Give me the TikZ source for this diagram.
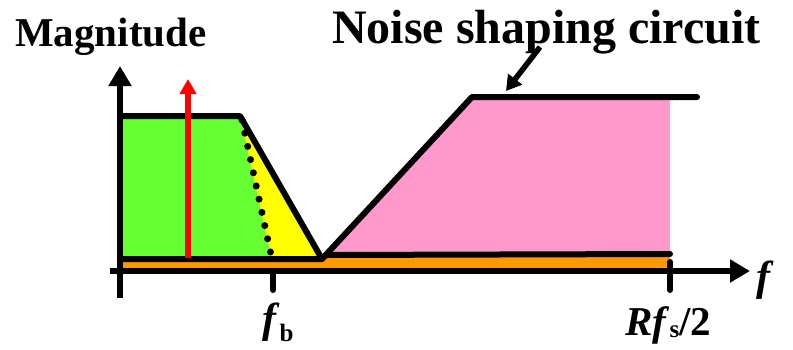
\documentclass[tikz,border=0pt]{standalone}
\usepackage{fontspec}
\setmainfont{Liberation Serif}
\usetikzlibrary{arrows.meta}
\begin{document}
\begin{tikzpicture}[x=1pt,y=-1pt,
  thick line/.style={line width=6pt,line cap=round,line join=round},
  axis/.style={line width=6pt,-{Triangle[length=20pt,width=22pt]}},
  lbl/.style={inner sep=0pt,font=\bfseries}]
\definecolor{grn}{RGB}{102,255,51}
\definecolor{yel}{RGB}{255,255,0}
\definecolor{pnk}{RGB}{255,153,204}
\definecolor{org}{RGB}{255,153,0}
\useasboundingbox (0,0) rectangle (793,349);
\fill[white] (0,0) rectangle (793,349);
% coordinates
\coordinate (tl) at (120,116);
\coordinate (tr) at (240,116);
\coordinate (bz) at (322,259);
\coordinate (bl) at (120,259);
\coordinate (dt) at (242,120);
\coordinate (db) at (272,259);
\coordinate (ps) at (326,255);
\coordinate (pt) at (472,97);
\coordinate (pe) at (697,97);
\coordinate (pr) at (670,97);
\coordinate (pb) at (670,254);
% fills
\fill[org] (120,255) rectangle (670,268);
\fill[grn] (tl) -- (tr) -- (db) -- (bl) -- cycle;
\fill[yel] (tr) -- (bz) -- (db) -- cycle;
\fill[pnk] (ps) -- (pt) -- (pr) -- (pb) -- cycle;
% outlines
\draw[thick line] (tl) -- (tr) -- (bz);
\draw[thick line] (bl) -- (bz) -- (pt) -- (pe);
\draw[thick line] (ps) -- (pb);
\draw[line width=7pt,line cap=round,dash pattern=on 0pt off 13.5pt] (dt) -- (db);
% axes
\coordinate (yb) at (120,298);
\coordinate (yt) at (120,66);
\coordinate (xl) at (110,271);
\coordinate (xr) at (750,271);
\draw[axis] (yb) -- (yt);
\draw[axis] (xl) -- (xr);
\draw[thick line] (273,271) coordinate (t1a) -- (273,290) coordinate (t1b);
\draw[thick line] (670,262) coordinate (t2a) -- (670,290) coordinate (t2b);
% red arrow
\coordinate (ra) at (188,258);
\coordinate (rb) at (188,79);
\draw[red,line width=6pt,-{Triangle[length=15pt,width=16pt]}] (ra) -- (rb);
% labels
\node[lbl,font=\bfseries\fontsize{41}{41}\selectfont,anchor=base west] (mag) at (15,46) {Magnitude};
\node[lbl,font=\bfseries\fontsize{48}{48}\selectfont,anchor=base west] (nsc) at (332,43) {Noise shaping circuit};
\coordinate (na) at (540,47);
\coordinate (nb) at (506,91);
\draw[line width=5.5pt,-{Triangle[length=15pt,width=17pt]}] (na) -- (nb);
\node[lbl,font=\bfseries\fontsize{42}{42}\selectfont,anchor=base west] (fx) at (756,290) {\textit{f}};
\node[lbl,font=\bfseries\fontsize{42}{42}\selectfont,anchor=base west] (fb) at (262,332) {\textit{f}\raisebox{-9pt}{\fontsize{25}{25}\selectfont b}};
\node[lbl,font=\bfseries\fontsize{41}{41}\selectfont,anchor=base west] (rf) at (625,335) {\textit{Rf}\raisebox{-2pt}{\fontsize{25}{25}\selectfont s}/2};
\end{tikzpicture}
\end{document}
